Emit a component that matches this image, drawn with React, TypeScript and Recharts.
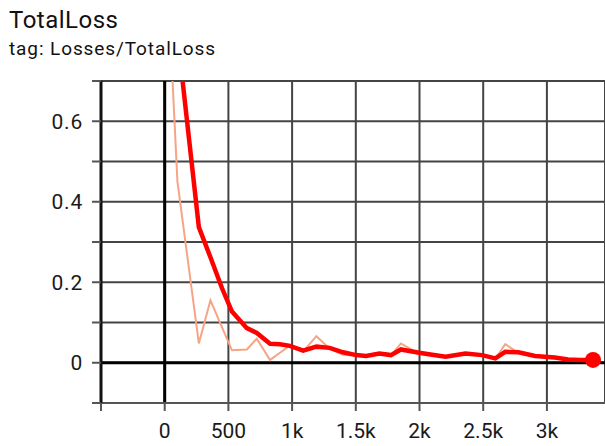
import React from 'react'
import { LineChart, Line, XAxis, YAxis, CartesianGrid, ReferenceLine, ReferenceDot } from 'recharts'

// step values shared by both series
const steps = [0, 100, 268, 359, 450, 528, 645, 723, 827, 905, 983, 1087, 1191, 1295, 1400, 1503, 1581, 1685, 1776, 1854, 1997, 2100, 2205, 2361, 2491, 2595, 2673, 2777, 2907, 3062, 3166, 3260, 3362]
const rawLoss = [1.1, 0.45, 0.048, 0.155, 0.088, 0.031, 0.033, 0.06, 0.007, 0.025, 0.043, 0.028, 0.066, 0.035, 0.02, 0.018, 0.015, 0.025, 0.018, 0.048, 0.022, 0.018, 0.014, 0.024, 0.018, 0.01, 0.046, 0.024, 0.016, 0.012, 0.007, 0.006, 0.007]
const smoothedLoss = [1.1, 0.815, 0.337, 0.262, 0.185, 0.127, 0.086, 0.074, 0.047, 0.046, 0.042, 0.03, 0.04, 0.037, 0.026, 0.019, 0.017, 0.023, 0.019, 0.033, 0.025, 0.02, 0.015, 0.023, 0.019, 0.011, 0.027, 0.026, 0.017, 0.013, 0.008, 0.007, 0.007]

const xTicks = [-500, 0, 500, 1000, 1500, 2000, 2500, 3000]
const yTicks = [-0.1, 0, 0.1, 0.2, 0.3, 0.4, 0.5, 0.6, 0.7]
const yLabels: Record<string, string> = { '0': '0', '0.2': '0.2', '0.4': '0.4', '0.6': '0.6' }

const data = steps.map((step, i) => ({ step, raw: rawLoss[i], smoothed: smoothedLoss[i] }))
const last = data[data.length - 1]

function fmtX(v: number) {
  if (v < 0) return ''
  if (v >= 1000) return `${v / 1000}k`
  return String(v)
}

function fmtY(v: number) {
  const key = String(Math.round(v * 10) / 10)
  return yLabels[key] ?? ''
}

export default function App() {
  return (
    <div style={{ position: 'absolute', left: 0, top: 0, width: 605, height: 446, overflow: 'hidden', background: '#fff', fontFamily: 'Roboto, sans-serif' }}>
      <div style={{ position: 'absolute', left: 9, top: 8, fontSize: 24, lineHeight: '24px', color: '#111', letterSpacing: 0.5 }}>TotalLoss</div>
      <div style={{ position: 'absolute', left: 9, top: 39, fontSize: 19, lineHeight: '19px', color: '#111', letterSpacing: 0.9 }}>tag: Losses/TotalLoss</div>
      <div style={{ position: 'absolute', left: 0, top: 0 }}>
        <LineChart width={605} height={446} data={data} margin={{ top: 81, right: 0, bottom: 0, left: 0 }}>
          <CartesianGrid stroke="#444" strokeWidth={2} />
          <XAxis dataKey="step" type="number" domain={[-500, 3456]} ticks={xTicks} allowDataOverflow
            tickFormatter={fmtX} tick={{ fill: '#1a1a1a', fontSize: 21 }} height={43} tickSize={8} tickMargin={12}
            axisLine={{ stroke: '#555', strokeWidth: 2 }} tickLine={{ stroke: '#555', strokeWidth: 2 }} />
          <YAxis type="number" domain={[-0.1, 0.7]} ticks={yTicks} allowDataOverflow
            tickFormatter={fmtY} tick={{ fill: '#1a1a1a', fontSize: 21, letterSpacing: 0.8 }} width={101} tickSize={9} tickMargin={9}
            axisLine={{ stroke: '#111', strokeWidth: 3 }} tickLine={{ stroke: '#555', strokeWidth: 2 }} />
          <ReferenceLine x={0} stroke="#000" strokeWidth={3} />
          <ReferenceLine y={0} stroke="#000" strokeWidth={3} />
          <Line dataKey="raw" stroke="#f5a585" strokeWidth={2} dot={false} isAnimationActive={false} />
          <Line dataKey="smoothed" stroke="#ff0000" strokeWidth={4.5} dot={false} isAnimationActive={false} />
          <ReferenceDot x={last.step} y={last.smoothed} r={8} fill="#ff0000" stroke="none" />
        </LineChart>
      </div>
    </div>
  )
}
